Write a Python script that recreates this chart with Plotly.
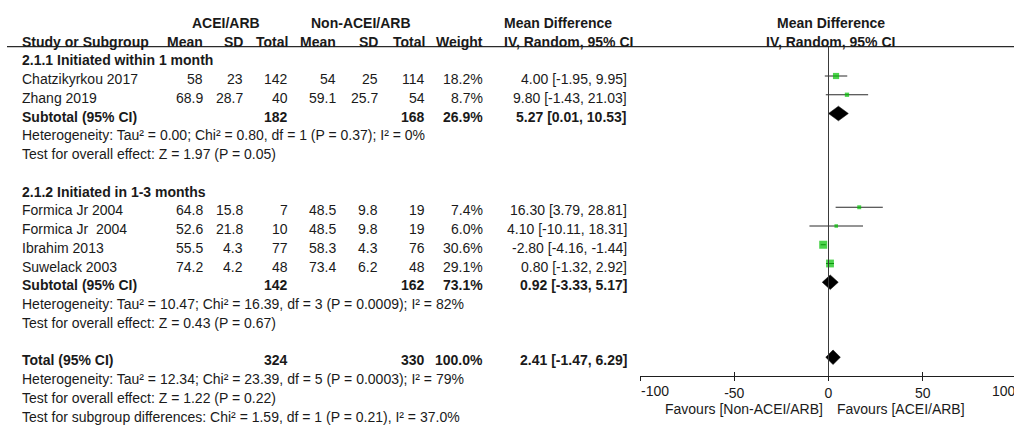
import numpy as np
import plotly.graph_objects as go

# ---------------- data ----------------
group_titles = ["2.1.1 Initiated within 1 month", "2.1.2 Initiated in 1-3 months"]

study_names = ["Chatzikyrkou 2017", "Zhang 2019",
               "Formica Jr 2004", "Formica Jr\u00a0 2004", "Ibrahim 2013", "Suwelack 2003"]
study_group = [0, 0, 1, 1, 1, 1]
acei_mean = [58, 68.9, 64.8, 52.6, 55.5, 74.2]
acei_sd = [23, 28.7, 15.8, 21.8, 4.3, 4.2]
acei_total = [142, 40, 7, 10, 77, 48]
ctrl_mean = [54, 59.1, 48.5, 48.5, 58.3, 73.4]
ctrl_sd = [25, 25.7, 9.8, 9.8, 4.3, 6.2]
ctrl_total = [114, 54, 19, 19, 76, 48]
study_weight = [18.2, 8.7, 7.4, 6.0, 30.6, 29.1]
study_md = [4.00, 9.80, 16.30, 4.10, -2.80, 0.80]
study_lo = [-1.95, -1.43, 3.79, -10.11, -4.16, -1.32]
study_hi = [9.95, 21.03, 28.81, 18.31, -1.44, 2.92]

sub_acei_total = [182, 142]
sub_ctrl_total = [168, 162]
sub_weight = [26.9, 73.1]
sub_md = [5.27, 0.92]
sub_lo = [0.01, -3.33]
sub_hi = [10.53, 5.17]
sub_heterogeneity = [
    "Heterogeneity: Tau² = 0.00; Chi² = 0.80, df = 1 (P = 0.37); I² = 0%",
    "Heterogeneity: Tau² = 10.47; Chi² = 16.39, df = 3 (P = 0.0009); I² = 82%",
]
sub_overall = [
    "Test for overall effect: Z = 1.97 (P = 0.05)",
    "Test for overall effect: Z = 0.43 (P = 0.67)",
]

total_acei = 324
total_ctrl = 330
total_weight = 100.0
total_md = 2.41
total_lo = -1.47
total_hi = 6.29
total_notes = [
    "Heterogeneity: Tau² = 12.34; Chi² = 23.39, df = 5 (P = 0.0003); I² = 79%",
    "Test for overall effect: Z = 1.22 (P = 0.22)",
    "Test for subgroup differences: Chi² = 1.59, df = 1 (P = 0.21), I² = 37.0%",
]

x_ticks = [-100, -50, 0, 50, 100]
favours_left = "Favours [Non-ACEI/ARB]"
favours_right = "Favours [ACEI/ARB]"

# ---------------- geometry ----------------
W, H = 1014, 425
ROW0_PX, ROW_H = 19.75, 18.75          # pixel centre of row 0, row pitch
AX_LEFT_PX, AX_RIGHT_PX = 640, 1017    # pixel span of the -100..100 scale
FONT = "Liberation Sans, Arial, sans-serif"
TXT = "#1a1a1a"
GREEN = "#00c000"
FS = 14
TEXT_SHIFT = -3                        # table text sits a little below the marks

# right edges (px) of the table columns
COL = dict(name=20.5, e_mean=204, e_sd=244, e_n=288.5, c_mean=337, c_sd=379,
           c_n=426, weight=484, ci=628, ci_head=503)


def row_of_px(p):
    return (p - ROW0_PX) / ROW_H


x_lo = x_ticks[0]
x_span = x_ticks[-1] - x_ticks[0]
x_hi_visible = x_lo + x_span * (W - AX_LEFT_PX) / (AX_RIGHT_PX - AX_LEFT_PX)

# ---------------- row layout ----------------
row = 2
title_rows, study_rows, sub_rows, note_rows = [], [0] * len(study_names), [], []
for g in range(len(group_titles)):
    title_rows.append(row)
    row += 1
    for i, sg in enumerate(study_group):
        if sg == g:
            study_rows[i] = row
            row += 1
    sub_rows.append(row)
    note_rows.append((row + 1, row + 2))
    row += 4
total_row = row
axis_row = total_row + 1

annotations = []


def txt(x_px, r, s, anchor="right", bold=False, size=FS):
    annotations.append(dict(
        x=x_px / W, xref="paper", y=r, yref="y", text=f"<b>{s}</b>" if bold else s,
        xanchor=anchor, yanchor="middle", showarrow=False, borderpad=0,
        yshift=TEXT_SHIFT, font=dict(family=FONT, size=size, color=TXT)))


def ci_str(m, lo, hi):
    return f"{m:.2f} [{lo:.2f}, {hi:.2f}]"


# headers
txt(226, 0, "ACEI/ARB", "center", True)
txt(361, 0, "Non-ACEI/ARB", "center", True)
txt(COL["ci_head"], 0, "Mean Difference", "left", True)
txt(COL["name"], 1, "Study or Subgroup", "left", True)
for key, lab in [("e_mean", "Mean"), ("e_sd", "SD"), ("e_n", "Total"),
                 ("c_mean", "Mean"), ("c_sd", "SD"), ("c_n", "Total"),
                 ("weight", "Weight")]:
    txt(COL[key], 1, lab, "right", True)
txt(COL["ci_head"], 1, "IV, Random, 95% CI", "left", True)

# groups
for g in range(len(group_titles)):
    txt(COL["name"], title_rows[g], group_titles[g], "left", True)
    for i, sg in enumerate(study_group):
        if sg != g:
            continue
        r = study_rows[i]
        txt(COL["name"], r, study_names[i], "left")
        txt(COL["e_mean"], r, f"{acei_mean[i]:g}")
        txt(COL["e_sd"], r, f"{acei_sd[i]:g}")
        txt(COL["e_n"], r, f"{acei_total[i]}")
        txt(COL["c_mean"], r, f"{ctrl_mean[i]:g}")
        txt(COL["c_sd"], r, f"{ctrl_sd[i]:g}")
        txt(COL["c_n"], r, f"{ctrl_total[i]}")
        txt(COL["weight"], r, f"{study_weight[i]:.1f}%")
        txt(COL["ci"], r, ci_str(study_md[i], study_lo[i], study_hi[i]))
    r = sub_rows[g]
    txt(COL["name"], r, "Subtotal (95% CI)", "left", True)
    txt(COL["e_n"], r, f"{sub_acei_total[g]}", bold=True)
    txt(COL["c_n"], r, f"{sub_ctrl_total[g]}", bold=True)
    txt(COL["weight"], r, f"{sub_weight[g]:.1f}%", bold=True)
    txt(COL["ci"], r, ci_str(sub_md[g], sub_lo[g], sub_hi[g]), bold=True)
    txt(COL["name"], note_rows[g][0], sub_heterogeneity[g], "left")
    txt(COL["name"], note_rows[g][1], sub_overall[g], "left")

# overall
txt(COL["name"], total_row, "Total (95% CI)", "left", True)
txt(COL["e_n"], total_row, f"{total_acei}", bold=True)
txt(COL["c_n"], total_row, f"{total_ctrl}", bold=True)
txt(COL["weight"], total_row, f"{total_weight:.1f}%", bold=True)
txt(COL["ci"], total_row, ci_str(total_md, total_lo, total_hi), bold=True)
for k, note in enumerate(total_notes):
    txt(COL["name"], total_row + 1 + k, note, "left")

# ---------------- forest panel ----------------
fig = go.Figure()

sizes = [1.45 * np.sqrt(w) for w in study_weight]
fig.add_trace(go.Scatter(
    x=study_md, y=study_rows, mode="markers",
    marker=dict(symbol="square", size=sizes, color=GREEN, line=dict(width=0)),
    error_x=dict(type="data", symmetric=False,
                 array=[h - m for h, m in zip(study_hi, study_md)],
                 arrayminus=[m - l for m, l in zip(study_md, study_lo)],
                 color="#2a2a2a", thickness=1, width=0),
    xaxis="x", yaxis="y", hoverinfo="skip"))

DIAMOND_HALF = 0.39
for m, lo, hi, r in list(zip(sub_md, sub_lo, sub_hi, sub_rows)) + [(total_md, total_lo, total_hi, total_row)]:
    fig.add_trace(go.Scatter(
        x=[lo, m, hi, m, lo], y=[r, r - DIAMOND_HALF, r, r + DIAMOND_HALF, r],
        mode="lines", fill="toself", fillcolor="black",
        line=dict(color="black", width=0.5), xaxis="x", yaxis="y", hoverinfo="skip"))

# panel header
for r, s in [(0, "Mean Difference"), (1, "IV, Random, 95% CI")]:
    annotations.append(dict(x=0, xref="x", y=r, yref="y", text=f"<b>{s}</b>",
                            xanchor="center", yanchor="middle", showarrow=False,
                            xshift=2, yshift=TEXT_SHIFT, borderpad=0,
                            font=dict(family=FONT, size=FS, color=TXT)))

# end labels of the scale sit inside the axis span
label_row = row_of_px(391)
annotations.append(dict(x=x_ticks[0], xref="x", y=label_row, yref="y",
                        text=f"{x_ticks[0]}", xanchor="left", yanchor="middle",
                        showarrow=False, borderpad=0,
                        font=dict(family=FONT, size=FS, color=TXT)))
px_right_tick = AX_LEFT_PX + (x_ticks[-1] - x_lo) / x_span * (AX_RIGHT_PX - AX_LEFT_PX)
annotations.append(dict(x=px_right_tick / W, xref="paper", y=label_row, yref="y",
                        text=f"{x_ticks[-1]}", xanchor="right", yanchor="middle",
                        showarrow=False, borderpad=0,
                        font=dict(family=FONT, size=FS, color=TXT)))

fav_row = row_of_px(408.5)
annotations.append(dict(x=0, xref="x", y=fav_row, yref="y", text=favours_left,
                        xanchor="right", yanchor="middle", showarrow=False,
                        xshift=-5, borderpad=0,
                        font=dict(family=FONT, size=FS, color=TXT)))
annotations.append(dict(x=0, xref="x", y=fav_row, yref="y", text=favours_right,
                        xanchor="left", yanchor="middle", showarrow=False,
                        xshift=7, borderpad=0,
                        font=dict(family=FONT, size=FS, color=TXT)))

header_line_row = row_of_px(46.7)
shapes = [
    dict(type="line", xref="paper", yref="y", x0=7 / W, x1=1,
         y0=header_line_row, y1=header_line_row, line=dict(color="#2a2a2a", width=1.2)),
    dict(type="line", xref="x", yref="y", x0=0, x1=0,
         y0=header_line_row, y1=axis_row, line=dict(color="#3a3a3a", width=1)),
]

axis_pos = 1 - (ROW0_PX + axis_row * ROW_H) / H
inner_ticks = x_ticks[:-1]
tick_text = [""] + [f"{t}" for t in inner_ticks[1:]]

fig.update_layout(
    width=W, height=H, margin=dict(l=0, r=0, t=0, b=0),
    paper_bgcolor="white", plot_bgcolor="white", showlegend=False,
    font=dict(family=FONT, size=FS, color=TXT),
    xaxis=dict(domain=[AX_LEFT_PX / W, 1], range=[x_lo, x_hi_visible],
               anchor="free", position=axis_pos, showline=True,
               linecolor="#1e1e1e", linewidth=1.2, ticks="outside", ticklen=4,
               tickwidth=1.2, tickcolor="#1e1e1e", tickvals=inner_ticks,
               ticktext=tick_text, tickfont=dict(family=FONT, size=FS, color=TXT),
               showgrid=False, zeroline=False, fixedrange=True),
    xaxis2=dict(overlaying="x", matches="x", anchor="free", position=axis_pos,
                ticks="inside", ticklen=4, tickwidth=1.2, tickcolor="#1e1e1e",
                tickvals=inner_ticks, showticklabels=False, showline=False,
                showgrid=False, zeroline=False),
    yaxis=dict(domain=[0, 1], range=[row_of_px(H), row_of_px(0)], visible=False,
               fixedrange=True),
    annotations=annotations, shapes=shapes,
)

# an invisible trace keeps the overlay axis active
fig.add_trace(go.Scatter(x=[x_lo], y=[axis_row], xaxis="x2", yaxis="y",
                         mode="markers", marker=dict(opacity=0), hoverinfo="skip"))

fig.write_html("out.html")
